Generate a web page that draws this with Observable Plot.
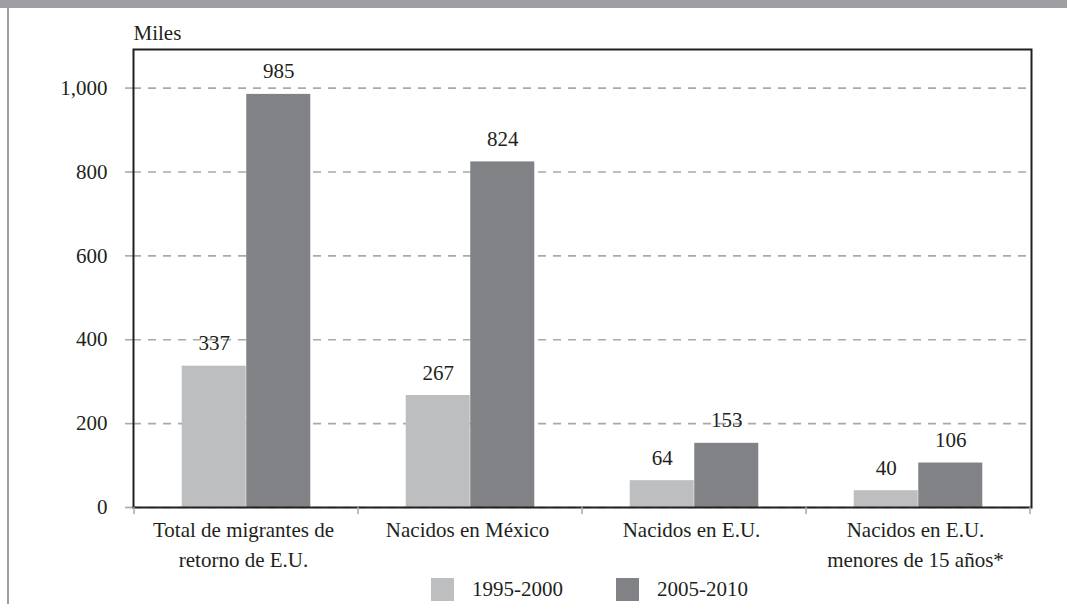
<!DOCTYPE html>
<html>
<head>
<meta charset="utf-8">
<script src="https://cdn.jsdelivr.net/npm/d3@7"></script>
<script src="https://cdn.jsdelivr.net/npm/@observablehq/plot@0.6"></script>
<style>
  html, body { margin: 0; padding: 0; background: #fff; }
  body { width: 1067px; height: 604px; overflow: hidden; position: relative; color: #231f20; font-family: 'Liberation Serif', serif; }
  #topband { position: absolute; left: 0; top: 0; width: 1067px; height: 8px; background: #9d9fa2; }
  #leftline { position: absolute; left: 7px; top: 8px; width: 2px; height: 596px; background: #9d9fa2; }
  #legend { position: relative; height: 30px; display: flex; align-items: center; padding-left: 431px; font-size: 21px; }
  .sw { width: 23px; height: 23px; margin-right: 18px; }
  .item { display: flex; align-items: center; margin-right: 53px; }
</style>
</head>
<body>
<div id="chart"></div>
<div id="legend"></div>
<div id="topband"></div>
<div id="leftline"></div>
<script>
const categories = [
  "Total de migrantes de\nretorno de E.U.",
  "Nacidos en México",
  "Nacidos en E.U.",
  "Nacidos en E.U.\nmenores de 15 años*"
];
const series = ["1995-2000", "2005-2010"];
const values1995 = [337, 267, 64, 40];
const values2005 = [985, 824, 153, 106];
const yTicks = [0, 200, 400, 600, 800, 1000];
const colors = ["#bcbec0", "#808285"];

const FONT = "'Liberation Serif', serif";
const W = 1067, H = 574;
const mL = 133, mR = 36, mT = 49, mB = 67;
const bw = (W - mL - mR) / categories.length;
const barW = bw * 0.2875;
const outer = bw / 2 - barW;

const d1 = categories.map((c, i) => ({category: c, value: values1995[i], series: series[0]}));
const d2 = categories.map((c, i) => ({category: c, value: values2005[i], series: series[1]}));

const ink = "#231f20";
const gridColor = "#a7a9ac";

const plot = Plot.plot({
  width: W, height: H,
  marginLeft: mL, marginRight: mR, marginTop: mT, marginBottom: mB,
  style: {fontFamily: FONT, fontSize: "21px", color: ink, background: "#fff"},
  x: {domain: categories, padding: 0},
  y: {domain: [0, 1092], ticks: yTicks},
  marks: [
    Plot.gridY(yTicks, {stroke: gridColor, strokeOpacity: 1, strokeWidth: 1.6, strokeDasharray: "8,7"}),
    Plot.axisY(yTicks, {tickSize: 8, tickPadding: 18, stroke: gridColor, strokeWidth: 1.6, strokeDasharray: "8,7", tickFormat: d3.format(","), fill: ink, fontSize: 21, label: null}),
    Plot.barY(d1, {x: "category", y: "value", fill: colors[0], insetLeft: outer, insetRight: bw / 2}),
    Plot.barY(d2, {x: "category", y: "value", fill: colors[1], insetLeft: bw / 2, insetRight: outer}),
    Plot.text(d1, {x: "category", y: "value", text: d => String(d.value), dx: -barW / 2, dy: -16, lineAnchor: "bottom", fill: ink, fontSize: 21}),
    Plot.text(d2, {x: "category", y: "value", text: d => String(d.value), dx: barW / 2, dy: -16, lineAnchor: "bottom", fill: ink, fontSize: 21}),
    Plot.axisX({tickSize: 0, tickPadding: 8, dx: -3, fill: ink, fontSize: 21, lineHeight: 1.43, label: null}),
    Plot.frame({stroke: ink, strokeWidth: 2}),
    Plot.text(["Miles"], {frameAnchor: "top-left", textAnchor: "start", lineAnchor: "bottom", dy: -10, fill: ink, fontSize: 21})
  ]
});

// boundary tick marks under the category axis, positioned from the x scale
const xs = plot.scale("x");
const ys = plot.scale("y");
const y0 = ys.apply(0);
const svg = d3.select(plot);
const bounds = categories.map(c => xs.apply(c)).concat([xs.apply(categories[categories.length - 1]) + xs.bandwidth]);
svg.append("g").selectAll("line").data(bounds).join("line")
  .attr("x1", d => d).attr("x2", d => d)
  .attr("y1", y0).attr("y2", y0 + 7)
  .attr("stroke", gridColor).attr("stroke-width", 1.5);

document.getElementById("chart").appendChild(plot);

const legend = document.getElementById("legend");
series.forEach((s, i) => {
  const item = document.createElement("div");
  item.className = "item";
  const sw = document.createElement("div");
  sw.className = "sw";
  sw.style.background = colors[i];
  const t = document.createElement("span");
  t.textContent = s;
  item.appendChild(sw);
  item.appendChild(t);
  legend.appendChild(item);
});
</script>
</body>
</html>
